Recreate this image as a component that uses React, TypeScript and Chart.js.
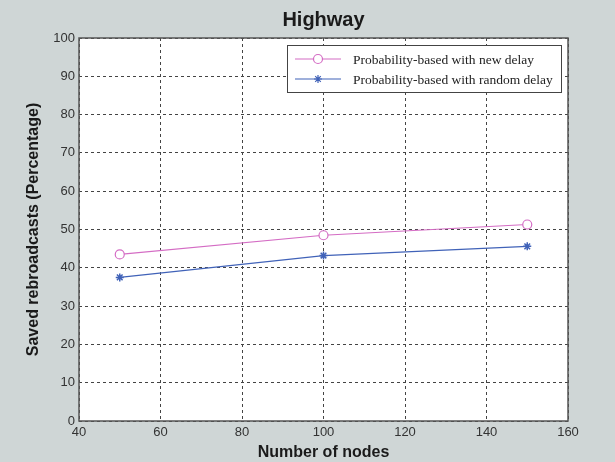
import React, { useEffect, useRef } from "react";
import { Chart, registerables } from "chart.js";

Chart.register(...registerables);

const chartTitle = "Highway";
const xTitle = "Number of nodes";
const yTitle = "Saved rebroadcasts (Percentage)";
const nodes = [50, 100, 150];
const newDelay = [43.5, 48.5, 51.3];
const randomDelay = [37.5, 43.2, 45.6];
const seriesNames = ["Probability-based with new delay", "Probability-based with random delay"];
const xMin = 40, xMax = 160, xStep = 20;
const yMin = 0, yMax = 100, yStep = 10;

const PINK = "#d46cc4";
const BLUE = "#4062b8";
const BG = "#cfd6d6";
const SANS = "Arial, 'Liberation Sans', Helvetica, sans-serif";
const SERIF = "'Times New Roman', 'Liberation Serif', serif";

const decorPlugin = {
  id: "decor",
  beforeDraw(chart: any) {
    const { ctx, chartArea: a, width, height } = chart;
    ctx.save();
    ctx.fillStyle = BG;
    ctx.fillRect(0, 0, width, height);
    ctx.fillStyle = "#ffffff";
    ctx.fillRect(a.left, a.top, a.right - a.left, a.bottom - a.top);
    ctx.restore();
  },
  afterDraw(chart: any) {
    const { ctx, chartArea: a } = chart;
    ctx.save();
    // frame
    ctx.strokeStyle = "#555555";
    ctx.lineWidth = 1.5;
    ctx.strokeRect(a.left, a.top, a.right - a.left, a.bottom - a.top);
    // title
    ctx.fillStyle = "#1a1a1a";
    ctx.font = `bold 20px ${SANS}`;
    ctx.textAlign = "center";
    ctx.textBaseline = "middle";
    ctx.fillText(chartTitle, (a.left + a.right) / 2, 20);
    // legend
    const lx = 287, ly = 45, lw = 274, lh = 47;
    ctx.fillStyle = "#ffffff";
    ctx.fillRect(lx, ly, lw, lh);
    ctx.strokeStyle = "#444444";
    ctx.lineWidth = 1;
    ctx.strokeRect(lx + 0.5, ly + 0.5, lw, lh);
    const rows = [
      { name: seriesNames[0], color: PINK, style: "circle", y: ly + 14 },
      { name: seriesNames[1], color: BLUE, style: "star", y: ly + 34 },
    ];
    rows.forEach((r) => {
      ctx.strokeStyle = r.color;
      ctx.lineWidth = 1.2;
      ctx.beginPath();
      ctx.moveTo(lx + 8, r.y);
      ctx.lineTo(lx + 54, r.y);
      ctx.stroke();
      const cx = lx + 31;
      ctx.beginPath();
      if (r.style === "circle") {
        ctx.fillStyle = "#ffffff";
        ctx.arc(cx, r.y, 4.5, 0, Math.PI * 2);
        ctx.fill();
        ctx.stroke();
      } else {
        const s = 4;
        ctx.moveTo(cx - s, r.y); ctx.lineTo(cx + s, r.y);
        ctx.moveTo(cx, r.y - s); ctx.lineTo(cx, r.y + s);
        const d = s * 0.7;
        ctx.moveTo(cx - d, r.y - d); ctx.lineTo(cx + d, r.y + d);
        ctx.moveTo(cx - d, r.y + d); ctx.lineTo(cx + d, r.y - d);
        ctx.stroke();
      }
      ctx.fillStyle = "#222222";
      ctx.font = `13.5px ${SERIF}`;
      ctx.textAlign = "left";
      ctx.textBaseline = "middle";
      ctx.fillText(r.name, lx + 66, r.y + 1);
    });
    ctx.restore();
  },
};

export default function App() {
  const ref = useRef<HTMLCanvasElement | null>(null);
  useEffect(() => {
    if (!ref.current) return;
    const chart = new Chart(ref.current, {
      type: "line",
      data: {
        datasets: [
          {
            label: seriesNames[0],
            data: nodes.map((x, i) => ({ x, y: newDelay[i] })),
            borderColor: PINK,
            backgroundColor: "#ffffff",
            borderWidth: 1.2,
            pointStyle: "circle",
            pointRadius: 4.5,
            pointBorderWidth: 1.2,
            pointBorderColor: PINK,
            pointBackgroundColor: "#ffffff",
            tension: 0,
          },
          {
            label: seriesNames[1],
            data: nodes.map((x, i) => ({ x, y: randomDelay[i] })),
            borderColor: BLUE,
            backgroundColor: BLUE,
            borderWidth: 1.2,
            pointStyle: "star",
            pointRadius: 4,
            pointBorderWidth: 1.5,
            pointBorderColor: BLUE,
            tension: 0,
          },
        ],
      },
      options: {
        responsive: false,
        animation: false,
        layout: { padding: { top: 38, right: 47, left: 0, bottom: 0 } },
        plugins: { legend: { display: false }, title: { display: false }, tooltip: { enabled: false } },
        scales: {
          x: {
            type: "linear",
            min: xMin,
            max: xMax,
            afterFit: (s: any) => { s.height = 41; },
            ticks: { stepSize: xStep, color: "#333333", font: { family: SANS, size: 13 }, padding: 4 },
            grid: { color: "#444444", lineWidth: 1, drawTicks: false, tickLength: 0 },
            border: { display: false, dash: [3, 3] },
            title: { display: true, text: xTitle, color: "#1a1a1a", font: { family: SANS, size: 16, weight: "bold" }, padding: { top: 0, bottom: 0 } },
          },
          y: {
            type: "linear",
            min: yMin,
            max: yMax,
            afterFit: (s: any) => { s.width = 79; },
            ticks: { stepSize: yStep, color: "#333333", font: { family: SANS, size: 13 }, padding: 4 },
            grid: { color: "#444444", lineWidth: 1, drawTicks: false, tickLength: 0 },
            border: { display: false, dash: [3, 3] },
            title: { display: true, text: yTitle, color: "#1a1a1a", font: { family: SANS, size: 16, weight: "bold" }, padding: { top: 24, bottom: 0 } },
          },
        },
      },
      plugins: [decorPlugin],
    } as any);
    return () => chart.destroy();
  }, []);
  return (
    <div style={{ position: "fixed", left: 0, top: 0, width: 615, height: 462 }}>
      <canvas ref={ref} width={615} height={462} style={{ display: "block", width: 615, height: 462 }} />
    </div>
  );
}
